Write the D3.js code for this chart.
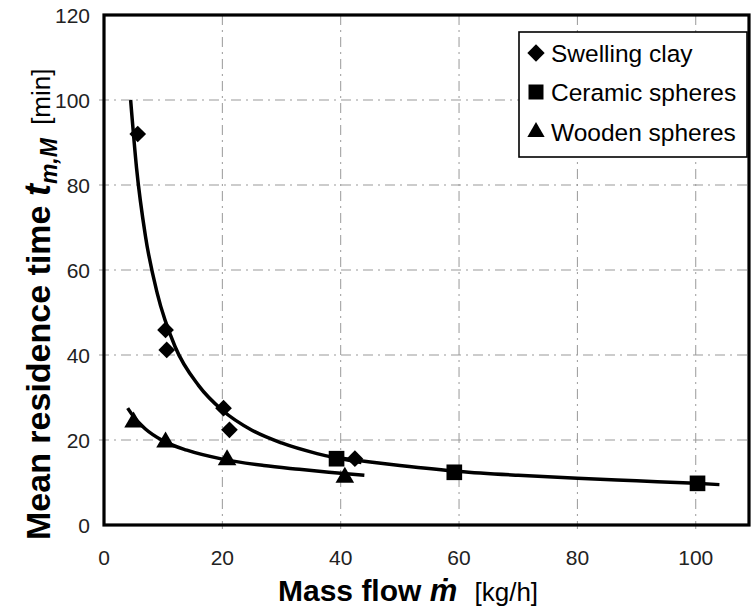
<!DOCTYPE html>
<html>
<head>
<meta charset="utf-8">
<script src="https://cdn.jsdelivr.net/npm/d3@7"></script>
<style>
  body { margin: 0; background: #fff; }
  svg { display: block; font-family: "Liberation Sans", Arial, sans-serif; }
</style>
</head>
<body>
<div id="chart"></div>
<script>
// measured points
var clayX = [5.7, 10.4, 10.6, 20.2, 21.2, 42.4];
var clayY = [92, 45.9, 41.2, 27.5, 22.4, 15.6];
var ceramicX = [39.3, 59.2, 100.3];
var ceramicY = [15.6, 12.4, 9.8];
var woodX = [5.0, 10.4, 20.8, 40.7];
var woodY = [24.2, 19.5, 15.3, 11.2];

// trend lines
var clayFitX = [4.5, 5.5, 7, 9, 12, 16, 20, 25, 30, 36, 43.5];
var clayFitY = [100, 84, 68, 54.5, 42, 32.8, 27, 22.3, 19.3, 16.8, 14.7];
var ceramicFitX = [38, 45, 50, 60, 70, 80, 90, 100, 104];
var ceramicFitY = [16.1, 14.8, 14.0, 12.6, 11.7, 11.0, 10.4, 9.8, 9.5];
var woodFitX = [4, 5, 7, 10, 14, 20, 27, 33, 38, 44];
var woodFitY = [27.5, 25.5, 22.6, 19.8, 17.6, 15.5, 14.0, 13.1, 12.4, 11.7];

var xTicks = [0, 20, 40, 60, 80, 100];
var yTicks = [0, 20, 40, 60, 80, 100, 120];
var legendNames = ["Swelling clay", "Ceramic spheres", "Wooden spheres"];

var W = 756, H = 609;
var svg = d3.select('#chart').append('svg').attr('width', W).attr('height', H);

var x = d3.scaleLinear().domain([0, 109]).range([104, 749]);
var y = d3.scaleLinear().domain([0, 120]).range([525, 15]);

function pts(xs, ys){ return xs.map(function(v, i){ return [v, ys[i]]; }); }

// grid
svg.append('g').selectAll('line').data(xTicks.slice(1)).enter().append('line')
    .attr('x1', function(d){ return x(d); }).attr('x2', function(d){ return x(d); })
    .attr('y1', y(120)).attr('y2', y(0) + 4)
    .attr('stroke', '#999').attr('stroke-width', 1).attr('stroke-dasharray', '10,5,2,5');
svg.append('g').selectAll('line').data(yTicks.slice(1, -1)).enter().append('line')
    .attr('y1', function(d){ return y(d); }).attr('y2', function(d){ return y(d); })
    .attr('x1', x(0) - 5).attr('x2', x(109))
    .attr('stroke', '#999').attr('stroke-width', 1).attr('stroke-dasharray', '10,5,2,5');

// frame
svg.append('rect').attr('x', x(0)).attr('y', y(120))
    .attr('width', x(109) - x(0)).attr('height', y(0) - y(120))
    .attr('fill', 'none').attr('stroke', '#000').attr('stroke-width', 3.2);

// tick labels
svg.append('g').selectAll('text').data(xTicks).enter().append('text')
    .attr('x', function(d){ return x(d); }).attr('y', 565)
    .attr('text-anchor', 'middle').attr('font-size', 21).attr('fill', '#222')
    .text(function(d){ return d; });
svg.append('g').selectAll('text').data(yTicks).enter().append('text')
    .attr('x', 90).attr('y', function(d){ return y(d) + 7.5; })
    .attr('text-anchor', 'end').attr('font-size', 21).attr('fill', '#222')
    .text(function(d){ return d; });

// trend lines
var line = d3.line().x(function(d){ return x(d[0]); }).y(function(d){ return y(d[1]); })
    .curve(d3.curveMonotoneX);
[pts(clayFitX, clayFitY), pts(ceramicFitX, ceramicFitY), pts(woodFitX, woodFitY)].forEach(function(p){
    svg.append('path').datum(p).attr('d', line)
        .attr('fill', 'none').attr('stroke', '#000').attr('stroke-width', 3.5);
});

// markers (diamond = rotated square)
var sym = {
    clay: { path: d3.symbol().type(d3.symbolSquare).size(140)(), rot: 45 },
    ceramic: { path: d3.symbol().type(d3.symbolSquare).size(245)(), rot: 0 },
    wood: { path: d3.symbol().type(d3.symbolTriangle).size(150)(), rot: 0 }
};
function drawMarks(xs, ys, s){
    svg.append('g').selectAll('path').data(pts(xs, ys)).enter().append('path')
        .attr('d', s.path)
        .attr('transform', function(d){ return 'translate(' + x(d[0]) + ',' + y(d[1]) + ') rotate(' + s.rot + ')'; })
        .attr('fill', '#000');
}
drawMarks(clayX, clayY, sym.clay);
drawMarks(ceramicX, ceramicY, sym.ceramic);
drawMarks(woodX, woodY, sym.wood);

// legend
var lg = svg.append('g');
lg.append('rect').attr('x', 519).attr('y', 32).attr('width', 228).attr('height', 125)
    .attr('fill', '#fff').attr('stroke', '#000').attr('stroke-width', 1.6);
var legSyms = [
    { path: d3.symbol().type(d3.symbolSquare).size(150)(), rot: 45 },
    { path: d3.symbol().type(d3.symbolSquare).size(225)(), rot: 0 },
    { path: d3.symbol().type(d3.symbolTriangle).size(130)(), rot: 0 }
];
var legY = [53, 92, 132];
legendNames.forEach(function(n, i){
    lg.append('path').attr('d', legSyms[i].path)
        .attr('transform', 'translate(536,' + legY[i] + ') rotate(' + legSyms[i].rot + ')');
    lg.append('text').attr('x', 551).attr('y', legY[i] + 9).attr('font-size', 24.5).text(n);
});

// axis titles
var xt = svg.append('text').attr('x', 278).attr('y', 601);
xt.append('tspan').attr('font-size', 30).attr('font-weight', 'bold').text('Mass flow ');
xt.append('tspan').attr('font-size', 31).attr('font-weight', 'bold').attr('font-style', 'italic').text('\u1E41');
xt.append('tspan').attr('font-size', 26).attr('dx', 10).text(' [kg/h]');

var yt = svg.append('text').attr('transform', 'translate(50,540) rotate(-90)');
yt.append('tspan').attr('font-size', 34).attr('font-weight', 'bold').text('Mean residence time ');
yt.append('tspan').attr('font-size', 36).attr('font-weight', 'bold').attr('font-style', 'italic').text('t');
yt.append('tspan').attr('font-size', 23).attr('font-weight', 'bold').attr('font-style', 'italic').attr('dy', 7).text('m,M');
yt.append('tspan').attr('font-size', 26).attr('dy', -7).attr('dx', 6).text(' [min]');
</script>
</body>
</html>
